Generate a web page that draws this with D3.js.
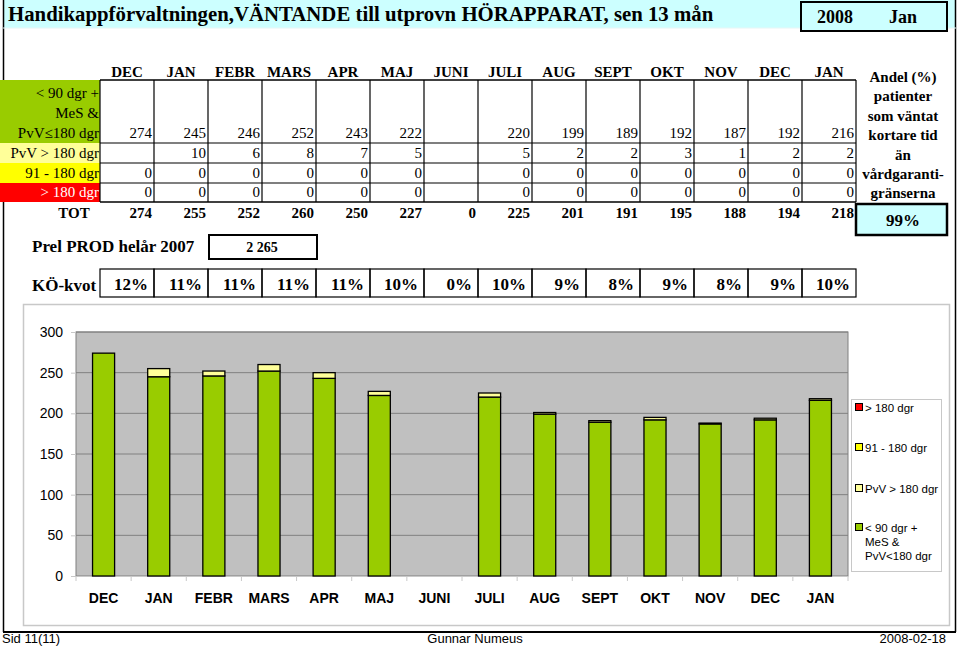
<!DOCTYPE html>
<html>
<head>
<meta charset="utf-8">
<script src="https://cdn.jsdelivr.net/npm/d3@7"></script>
<style>
  body { margin: 0; background: #fff; }
  svg text { font-family: "Liberation Serif", "Times New Roman", serif; }
  .sans { font-family: "Liberation Sans", Arial, sans-serif !important; }
</style>
</head>
<body>
<div id="container"></div>
<script>
"use strict";

// data
const months = ["DEC", "JAN", "FEBR", "MARS", "APR", "MAJ", "JUNI", "JULI", "AUG", "SEPT", "OKT", "NOV", "DEC", "JAN"];
const under90 = [274, 245, 246, 252, 243, 222, null, 220, 199, 189, 192, 187, 192, 216];
const pvvOver180 = [null, 10, 6, 8, 7, 5, null, 5, 2, 2, 3, 1, 2, 2];
const d91to180 = [0, 0, 0, 0, 0, 0, null, 0, 0, 0, 0, 0, 0, 0];
const over180 = [0, 0, 0, 0, 0, 0, null, 0, 0, 0, 0, 0, 0, 0];
const totals = [274, 255, 252, 260, 250, 227, 0, 225, 201, 191, 195, 188, 194, 218];
const koKvot = ["12%", "11%", "11%", "11%", "11%", "10%", "0%", "10%", "9%", "8%", "9%", "8%", "9%", "10%"];
const yTicks = [0, 50, 100, 150, 200, 250, 300];

const green = "#99cc00", paleYellow = "#ffff99", yellow = "#ffff00", red = "#ff0000", cyan = "#ccffff";

const svg = d3.select("#container").append("svg")
    .attr("width", 959).attr("height", 647);

// SECTION: page frame + title
svg.append("rect").attr("x", 3).attr("y", 0).attr("width", 952).attr("height", 28).attr("fill", cyan);
svg.append("line").attr("x1", 3.5).attr("x2", 3.5).attr("y1", 0).attr("y2", 632).attr("stroke", "#000").attr("stroke-width", 1.5);
svg.append("line").attr("x1", 955.5).attr("x2", 955.5).attr("y1", 0).attr("y2", 632).attr("stroke", "#000").attr("stroke-width", 1.5);
svg.append("line").attr("x1", 3).attr("x2", 956).attr("y1", 632).attr("y2", 632).attr("stroke", "#000").attr("stroke-width", 2);
svg.append("line").attr("x1", 3).attr("x2", 956).attr("y1", 28).attr("y2", 28).attr("stroke", "#e6f6f6").attr("stroke-width", 1);

svg.append("text").attr("x", 8).attr("y", 21)
    .style("font-size", "20.8px").style("font-weight", "bold")
    .text("Handikappförvaltningen,VÄNTANDE till utprovn HÖRAPPARAT, sen 13 mån");

svg.append("rect").attr("x", 801).attr("y", 2).attr("width", 146).attr("height", 29)
    .attr("fill", cyan).attr("stroke", "#000").attr("stroke-width", 2);
svg.append("text").attr("x", 835).attr("y", 23).attr("text-anchor", "middle")
    .style("font-size", "18px").style("font-weight", "bold").text("2008");
svg.append("text").attr("x", 903).attr("y", 23).attr("text-anchor", "middle")
    .style("font-size", "18px").style("font-weight", "bold").text("Jan");

// SECTION: table
const idx = d3.range(months.length);
const col = d3.scaleBand().domain(idx).range([100, 856]);

const table = svg.append("g");

table.selectAll(".mhead").data(idx).enter().append("text")
    .attr("x", i => col(i) + col.bandwidth() / 2).attr("y", 77)
    .attr("text-anchor", "middle")
    .style("font-size", "15px").style("font-weight", "bold")
    .text(i => months[i]);

// label cells on the left
const rowDefs = [
  { y0: 80, y1: 143, fill: green, color: "#000", lines: ["< 90 dgr +", "MeS &", "PvV≤180 dgr"], vals: under90 },
  { y0: 143, y1: 163, fill: paleYellow, color: "#000", lines: ["PvV > 180 dgr"], vals: pvvOver180 },
  { y0: 163, y1: 183, fill: yellow, color: "#000", lines: ["91 - 180 dgr"], vals: d91to180 },
  { y0: 183, y1: 202, fill: red, color: "#fff", lines: ["> 180 dgr"], vals: over180 }
];

rowDefs.forEach(r => {
  table.append("rect").attr("x", 0).attr("y", r.y0).attr("width", 100).attr("height", r.y1 - r.y0).attr("fill", r.fill);
  r.lines.forEach((t, k) => {
    table.append("text").attr("x", 99).attr("y", r.y1 - 5 - (r.lines.length - 1 - k) * 20)
        .attr("text-anchor", "end").style("font-size", "15px").style("fill", r.color).text(t);
  });
  table.selectAll(null).data(idx.filter(i => r.vals[i] !== null)).enter().append("text")
      .attr("x", i => col(i) + col.bandwidth() - 2).attr("y", r.y1 - 5)
      .attr("text-anchor", "end").style("font-size", "15px")
      .text(i => r.vals[i]);
});

// grid of the value cells
[80, 143, 163, 183, 202].forEach(y => {
  table.append("line").attr("x1", 100).attr("x2", 856).attr("y1", y).attr("y2", y)
      .attr("stroke", "#000").attr("stroke-width", y === 80 || y === 202 ? 1.5 : 1.2);
});
idx.concat([months.length]).forEach(i => {
  const x = i < months.length ? col(i) : 856;
  table.append("line").attr("x1", x).attr("x2", x).attr("y1", 80).attr("y2", 202)
      .attr("stroke", "#000").attr("stroke-width", 1.2);
});

// TOT row
table.append("text").attr("x", 74).attr("y", 218).attr("text-anchor", "middle")
    .style("font-size", "15px").style("font-weight", "bold").text("TOT");
table.selectAll(".tot").data(idx).enter().append("text")
    .attr("x", i => col(i) + col.bandwidth() - 2).attr("y", 218)
    .attr("text-anchor", "end").style("font-size", "15px").style("font-weight", "bold")
    .text(i => totals[i]);

// Prel PROD
table.append("text").attr("x", 32).attr("y", 252)
    .style("font-size", "17px").style("font-weight", "bold").text("Prel PROD helår 2007");
table.append("rect").attr("x", 209).attr("y", 235).attr("width", 108).attr("height", 24)
    .attr("fill", "none").attr("stroke", "#000").attr("stroke-width", 2);
table.append("text").attr("x", 262).attr("y", 252).attr("text-anchor", "middle")
    .style("font-size", "14px").style("font-weight", "bold").text("2 265");

// KÖ-kvot row
table.append("text").attr("x", 32).attr("y", 291)
    .style("font-size", "17px").style("font-weight", "bold").text("KÖ-kvot");
table.selectAll(".kocell").data(idx).enter().append("rect")
    .attr("x", i => col(i)).attr("y", 269).attr("width", col.bandwidth()).attr("height", 28)
    .attr("fill", "none").attr("stroke", "#000").attr("stroke-width", 1.2);
table.selectAll(".ko").data(idx).enter().append("text")
    .attr("x", i => col(i) + col.bandwidth() - 6).attr("y", 290)
    .attr("text-anchor", "end").style("font-size", "17px").style("font-weight", "bold")
    .text(i => koKvot[i]);

// Andel box on the right
const andel = ["Andel (%)", "patienter", "som väntat", "kortare tid", "än", "vårdgaranti-", "gränserna"];
table.selectAll(".andel").data(andel).enter().append("text")
    .attr("x", 903).attr("y", (d, i) => 82 + i * 19.4).attr("text-anchor", "middle")
    .style("font-size", "15px").style("font-weight", "bold").text(d => d);
table.append("rect").attr("x", 856).attr("y", 204).attr("width", 91).attr("height", 31)
    .attr("fill", cyan).attr("stroke", "#000").attr("stroke-width", 2.5);
table.append("text").attr("x", 903).attr("y", 226).attr("text-anchor", "middle")
    .style("font-size", "17px").style("font-weight", "bold").text("99%");

// SECTION: stacked bar chart
svg.append("rect").attr("x", 23.5).attr("y", 304.5).attr("width", 926).attr("height", 321)
    .attr("fill", "#fff").attr("stroke", "#c8c8c8").attr("stroke-width", 1.5);

const x = d3.scaleBand().domain(idx).range([76, 848]).paddingInner(0.6).paddingOuter(0.3);
const y = d3.scaleLinear().domain([0, 300]).range([576, 332]);

svg.append("rect").attr("x", 76).attr("y", 332).attr("width", 772).attr("height", 244)
    .attr("fill", "#c0c0c0").attr("stroke", "#808080").attr("stroke-width", 1);

svg.append("g").selectAll("line").data(yTicks.filter(v => v > 0)).enter().append("line")
    .attr("x1", 76).attr("x2", 848).attr("y1", d => y(d)).attr("y2", d => y(d))
    .attr("stroke", "#808080").attr("stroke-width", 1);

const yAxis = svg.append("g").attr("transform", "translate(76,0)")
    .call(d3.axisLeft(y).tickValues(yTicks).tickSize(5).tickPadding(8));
yAxis.select(".domain").remove();
yAxis.selectAll("line").attr("stroke", "#c8c8c8");
yAxis.selectAll("text").attr("class", "sans").style("font-size", "14px").style("fill", "#000");

const xTicks = svg.append("g");
xTicks.selectAll("line").data(d3.range(months.length + 1)).enter().append("line")
    .attr("x1", i => 76 + i * x.step()).attr("x2", i => 76 + i * x.step())
    .attr("y1", 576).attr("y2", 581).attr("stroke", "#c8c8c8");
xTicks.append("line").attr("x1", 76).attr("x2", 848).attr("y1", 576.5).attr("y2", 576.5).attr("stroke", "#c8c8c8");
xTicks.selectAll("text").data(idx).enter().append("text")
    .attr("class", "sans")
    .attr("x", i => x(i) + x.bandwidth() / 2).attr("y", 603)
    .attr("text-anchor", "middle").style("font-size", "14px").style("font-weight", "bold")
    .text(i => months[i]);

const rows = idx.map(i => ({
  i: i,
  a: under90[i] || 0, b: pvvOver180[i] || 0, c: d91to180[i] || 0, d: over180[i] || 0
}));
const keys = ["a", "b", "c", "d"];
const fills = { a: green, b: paleYellow, c: yellow, d: red };
const stacked = d3.stack().keys(keys)(rows);

svg.append("g").selectAll("g").data(stacked).enter().append("g")
    .attr("fill", s => fills[s.key])
    .selectAll("rect").data(s => s.filter(p => totals[p.data.i] > 0)).enter().append("rect")
      .attr("x", p => x(p.data.i))
      .attr("y", p => y(p[1]))
      .attr("width", x.bandwidth())
      .attr("height", p => y(p[0]) - y(p[1]))
      .attr("stroke", "#000").attr("stroke-width", 1.3);

// legend
const legend = svg.append("g");
legend.append("rect").attr("x", 851.5).attr("y", 399.5).attr("width", 90).attr("height", 172)
    .attr("fill", "#fff").attr("stroke", "#c8c8c8");
const legItems = [
  { fill: red, lines: ["> 180 dgr"], y: 407 },
  { fill: yellow, lines: ["91 - 180 dgr"], y: 447 },
  { fill: paleYellow, lines: ["PvV > 180 dgr"], y: 488 },
  { fill: green, lines: ["< 90 dgr +", "MeS &", "PvV<180 dgr"], y: 527 }
];
legItems.forEach(it => {
  legend.append("rect").attr("x", 855.5).attr("y", it.y - 3.5).attr("width", 7).attr("height", 7)
      .attr("fill", it.fill).attr("stroke", "#000");
  it.lines.forEach((t, k) => {
    legend.append("text").attr("class", "sans").attr("x", 865).attr("y", it.y + 4.5 + k * 14)
        .style("font-size", "11.5px").text(t);
  });
});

// footer
svg.append("text").attr("class", "sans").attr("x", 2).attr("y", 643).style("font-size", "13px").text("Sid 11(11)");
svg.append("text").attr("class", "sans").attr("x", 475).attr("y", 643).attr("text-anchor", "middle").style("font-size", "13px").text("Gunnar Numeus");
svg.append("text").attr("class", "sans").attr("x", 946).attr("y", 643).attr("text-anchor", "end").style("font-size", "13px").text("2008-02-18");
</script>
</body>
</html>
